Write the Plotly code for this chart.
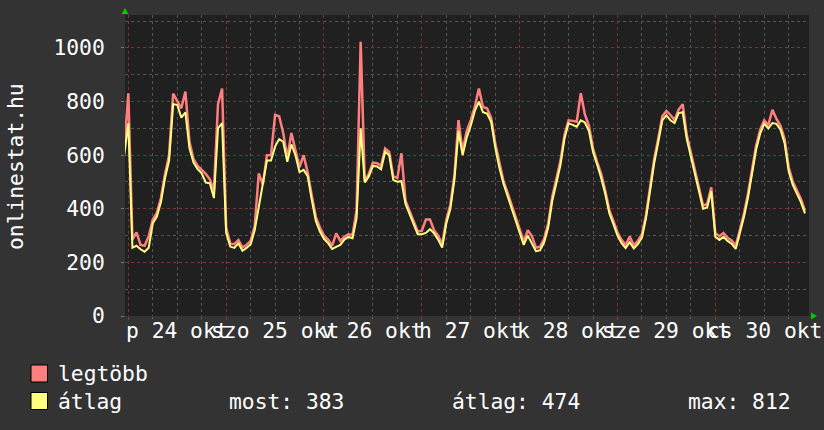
import plotly.graph_objects as go
import pandas as pd

# ---- data -------------------------------------------------------------
start_hour = -1  # hours relative to 2014-10-24 00:00
legtobb = [620,
    831, 285, 312, 265, 262, 298, 360, 385, 440, 530, 600, 830, 805, 775, 837, 650, 585, 560, 545, 530, 510, 470, 790, 849,
    330, 270, 268, 283, 256, 265, 280, 335, 532, 490, 600, 600, 750, 745, 683, 590, 683, 615, 555, 600, 535, 450, 370, 330,
    300, 285, 262, 308, 280, 296, 305, 302, 396, 1023, 505, 530, 572, 570, 560, 625, 612, 520, 515, 607, 430, 392, 355, 315,
    318, 360, 360, 320, 300, 268, 358, 415, 525, 731, 615, 690, 731, 780, 849, 780, 775, 740, 645, 570, 505, 462, 415, 370,
    325, 278, 320, 298, 255, 258, 288, 345, 445, 510, 578, 675, 730, 728, 725, 831, 752, 710, 625, 575, 530, 468, 395, 355,
    312, 284, 265, 296, 264, 280, 305, 378, 485, 585, 662, 745, 765, 750, 731, 770, 790, 675, 610, 545, 468, 412, 418, 480,
    310, 298, 310, 292, 282, 262, 320, 380, 455, 540, 635, 695, 730, 712, 769, 735, 710, 660, 555, 502, 468, 437, 393]
atlag = [600,
    719, 255, 262, 249, 240, 255, 346, 371, 425, 515, 580, 790, 788, 740, 760, 626, 572, 548, 532, 498, 495, 440, 700, 720,
    310, 259, 254, 271, 243, 254, 267, 320, 405, 480, 580, 580, 632, 660, 650, 575, 640, 600, 537, 545, 522, 433, 355, 315,
    288, 272, 250, 258, 265, 285, 295, 290, 365, 700, 498, 520, 560, 558, 547, 613, 600, 507, 501, 503, 418, 380, 345, 305,
    305, 310, 324, 309, 285, 255, 345, 400, 510, 690, 600, 665, 710, 765, 800, 760, 755, 725, 630, 555, 495, 450, 405, 360,
    315, 265, 300, 270, 242, 245, 275, 330, 430, 495, 562, 662, 719, 713, 706, 730, 722, 690, 612, 565, 515, 455, 383, 343,
    300, 272, 253, 275, 252, 268, 292, 365, 470, 570, 648, 730, 749, 730, 720, 757, 760, 660, 595, 530, 453, 400, 405, 465,
    296, 284, 295, 280, 270, 250, 308, 368, 440, 525, 620, 680, 718, 700, 720, 717, 695, 645, 540, 489, 455, 425, 383]

day_dates = ["2014-10-24", "2014-10-25", "2014-10-26", "2014-10-27", "2014-10-28", "2014-10-29", "2014-10-30"]
day_labels = ["p 24 okt", "szo 25 okt", "v 26 okt", "h 27 okt", "k 28 okt", "sze 29 okt", "cs 30 okt"]
y_ticks = [0, 200, 400, 600, 800, 1000]
stat_labels = ["most: 383", "átlag: 474", "max: 812"]
series_names = ["legtöbb", "átlag"]

# ---- figure -----------------------------------------------------------
times = pd.Timestamp("2014-10-24 00:00") + pd.to_timedelta(
    list(range(start_hour, start_hour + len(atlag))), unit="h")

FONT = "DejaVu Sans Mono"
FS = 21.3
RED = "#ff7f7f"
YEL = "#ffff7f"
W, H = 824, 430
L, R, T, B = 125, 15, 15, 114
PW, PH = W - L - R, H - T - B


def px(xp):
    return (xp - L) / PW


def py(yp):
    return (H - B - yp) / PH


fig = go.Figure()
fig.add_trace(go.Scatter(x=times, y=legtobb, mode="lines", name=series_names[0],
                         line=dict(color=RED, width=2.5), showlegend=False))
fig.add_trace(go.Scatter(x=times, y=atlag, mode="lines", name=series_names[1],
                         line=dict(color=YEL, width=2), showlegend=False))

fig.update_layout(
    width=W, height=H,
    margin=dict(l=L, r=R, t=T, b=B, pad=0, autoexpand=False),
    paper_bgcolor="#333333",
    plot_bgcolor="#202020",
    font=dict(family=FONT, size=FS, color="#ffffff"),
    showlegend=False,
)

fig.update_xaxes(
    type="date",
    range=["2014-10-23 23:11", "2014-10-30 22:59"],
    tickmode="array",
    tickvals=[d + " 00:00" for d in day_dates],
    showticklabels=False,
    ticks="outside", ticklen=3, tickcolor="#a03030", tickwidth=1,
    showgrid=True, gridcolor="#7a3434", griddash="dot", gridwidth=1,
    minor=dict(dtick=6 * 3600 * 1000, tick0="2014-10-24 00:00", showgrid=True,
               gridcolor="#555555", griddash="dot", gridwidth=1,
               ticks="outside", ticklen=2, tickcolor="#666666"),
    zeroline=False, showline=False, fixedrange=True, automargin=False,
)
fig.update_yaxes(
    range=[0, 1123],
    tickmode="array", tickvals=y_ticks,
    tickfont=dict(family=FONT, size=FS, color="#ffffff"),
    ticks="outside", ticklen=3, tickcolor="#777777",
    ticklabelstandoff=12,
    showgrid=True, gridcolor="#7a3434", griddash="dot", gridwidth=1,
    minor=dict(dtick=100, showgrid=True, gridcolor="#555555", griddash="dot", gridwidth=1),
    zeroline=False, showline=False, fixedrange=True, automargin=False,
)

# day labels centred at noon
for d, lab in zip(day_dates, day_labels):
    fig.add_annotation(x=d + " 12:00", xref="x", y=py(330.5), yref="paper",
                       text=lab, showarrow=False, xanchor="center", yanchor="middle",
                       font=dict(family=FONT, size=FS, color="#ffffff"))

# y-axis title
fig.add_annotation(x=px(15), y=py(167), xref="paper", yref="paper", text="onlinestat.hu",
                   textangle=-90, showarrow=False, xanchor="center", yanchor="middle",
                   font=dict(family=FONT, size=FS, color="#ffffff"))

# legend boxes + texts
for color, name, yc in [(RED, series_names[0], 373.5), (YEL, series_names[1], 401)]:
    fig.add_shape(type="rect", xref="paper", yref="paper",
                  x0=px(31), x1=px(47.5), y0=py(yc - 8.5), y1=py(yc + 8.5),
                  fillcolor=color, line=dict(color="#000000", width=1))
    fig.add_annotation(x=px(56), y=py(yc), xref="paper", yref="paper", text=name,
                       showarrow=False, xanchor="left", yanchor="middle",
                       font=dict(family=FONT, size=FS, color="#ffffff"))

for xpos, txt in zip([227, 450, 686], stat_labels):
    fig.add_annotation(x=px(xpos), y=py(401), xref="paper", yref="paper", text=txt,
                       showarrow=False, xanchor="left", yanchor="middle",
                       font=dict(family=FONT, size=FS, color="#ffffff"))

# green axis arrows
fig.add_shape(type="path", xref="paper", yref="paper",
              path=f"M {px(121.5)} {py(14)} L {px(128.5)} {py(14)} L {px(125)} {py(8)} Z",
              fillcolor="#00cc00", line=dict(color="#00cc00", width=0))
fig.add_shape(type="path", xref="paper", yref="paper",
              path=f"M {px(811)} {py(312.5)} L {px(811)} {py(319.5)} L {px(817)} {py(316)} Z",
              fillcolor="#00cc00", line=dict(color="#00cc00", width=0))

fig.write_html("out.html",
               config={"displayModeBar": False},
               post_script="document.body.style.margin='0';document.body.style.padding='0';")
